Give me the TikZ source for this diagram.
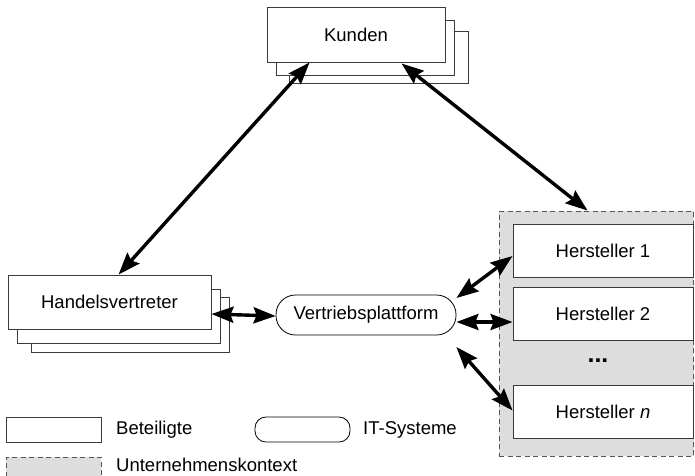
\documentclass[tikz,border=0pt]{standalone}
\usepackage{fontspec}
\setmainfont{Liberation Sans}
\usetikzlibrary{arrows.meta}
\definecolor{edge}{HTML}{3A3A3A}
\definecolor{ctxfill}{HTML}{DDDDDD}
\definecolor{ctxline}{HTML}{555555}
\begin{document}
\begin{tikzpicture}[x=1pt,y=-1pt,
  every node/.style={font=\fontsize{18.5}{22}\selectfont, inner sep=0pt},
  actor/.style={draw=edge, line width=0.9pt, fill=white, minimum width=#1},
  actor/.default=178pt,
  system/.style={draw=black, line width=0.8pt, fill=white, rounded corners=19.5pt},
  context/.style={draw=ctxline, line width=0.9pt, fill=ctxfill, dash pattern=on 5pt off 3.5pt},
  link/.style={line width=3.4pt, arrows={Stealth[length=22pt,width=16pt,inset=3pt]-Stealth[length=22pt,width=16pt,inset=3pt]}}
]
\clip (0,0) rectangle (695,475);
\useasboundingbox (0,0) rectangle (695,475);

% company context with the manufacturers
\node[context, minimum width=194.5pt, minimum height=245pt] (ctx) at (596.25,333.5) {};
\node[actor=180pt, minimum height=53pt] (h1) at (603,250.5) {Hersteller 1};
\node[actor=180pt, minimum height=53pt] (h2) at (603,313.5) {Hersteller 2};
\node[font=\fontsize{25}{27}\selectfont\bfseries] (dots) at (598,360.5) {...};
\node[actor=180pt, minimum height=53pt] (hn) at (603,411.5) {Hersteller \textit{n}};

% customers (stacked)
\node[actor=179pt, minimum height=52pt] (kunden3) at (378.5,57) {};
\node[actor=178pt, minimum height=55pt] (kunden2) at (365,47.5) {};
\node[actor=178pt, minimum height=55pt] (kunden) at (356,34.5) {Kunden};

% sales agents (stacked)
\node[actor=198pt, minimum height=55pt] (hv3) at (130,324.5) {};
\node[actor=203pt, minimum height=54pt] (hv2) at (118.5,316) {};
\node[actor=203pt, minimum height=54pt] (hv) at (109.5,302) {Handelsvertreter};

% sales platform
\node[system, minimum width=180pt, minimum height=40pt] (vp) at (366,315) {Vertriebsplattform};

% connections
\draw[link] ([xshift=43pt]kunden.south west) -- ([xshift=111pt]hv.north west);
\draw[link] ([xshift=135pt,yshift=-1pt]kunden.south west) -- ([xshift=89pt]ctx.north west);
\draw[link] ([yshift=-12pt]hv.east) -- ([yshift=-1pt]vp.west);
\draw[link] ([yshift=17pt]vp.east) -- ([yshift=-5.5pt]h1.west);
\draw[link] ([yshift=-7pt]vp.east) -- ([yshift=-8.5pt]h2.west);
\draw[link] ([yshift=-32pt]vp.east) -- ([yshift=1pt]hn.west);

% legend
\node[actor=95pt, minimum height=25pt] (legA) at (53.5,429.5) {};
\node[anchor=west] (legAt) at (116,430) {Beteiligte};
\node[system, rounded corners=11pt, minimum width=95pt, minimum height=25pt] (legS) at (302.5,429.5) {};
\node[anchor=west] (legSt) at (363,430) {IT-Systeme};
\node[context, minimum width=95pt, minimum height=25pt] (legC) at (53.5,469.5) {};
\node[anchor=west] (legCt) at (116,465) {Unternehmenskontext};
\end{tikzpicture}
\end{document}
